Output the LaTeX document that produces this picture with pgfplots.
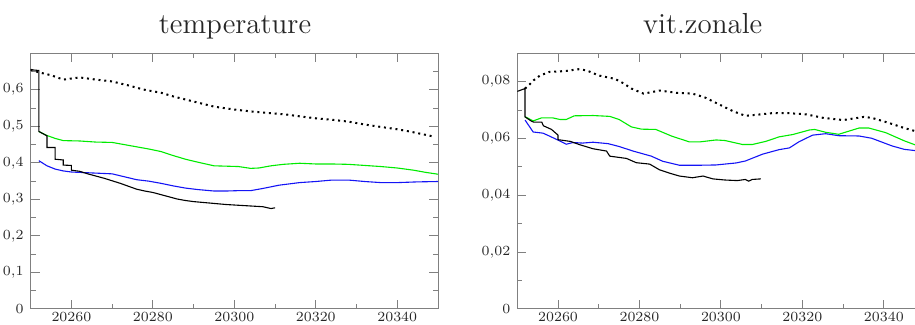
\documentclass[border=0pt]{standalone}
\usepackage{pgfplots}
\pgfplotsset{compat=1.18}
\definecolor{cgreen}{RGB}{0,235,0}
\definecolor{cblue}{RGB}{20,20,245}
\begin{document}
\begin{tikzpicture}
\useasboundingbox (0,0) rectangle (457.5pt,162.5pt);
\clip (0,0) rectangle (457.5pt,162.5pt);
\pgfplotsset{
  common/.style={
    scale only axis,
    width=203.65pt, height=127.85pt,
    anchor=south west,
    xmin=20250, xmax=20350,
    scaled x ticks=false, scaled y ticks=false,
    xtick={20260,20280,20300,20320,20340},
    minor xtick={20270,20290,20310,20330},
    tick align=inside,
    major tick length=4.5pt,
    minor tick length=2.5pt,
    axis line style={black!50, line width=0.5pt},
    every tick/.style={black!50, line width=0.5pt},
    ticklabel style={font=\fontsize{6.6}{8}\selectfont, text=black!85},
    x tick label style={/pgf/number format/fixed, /pgf/number format/precision=0, /pgf/number format/1000 sep={}, inner sep=1.5pt},
    y tick label style={/pgf/number format/fixed, /pgf/number format/use comma},
    every axis plot/.append style={line width=0.55pt},
  },
  dots/.style={black, line width=1pt, dash pattern=on 1pt off 1.9pt},
}
\node[anchor=base, font=\fontsize{14.5}{17}\selectfont, text=black!85] at (117.5pt,145.85pt) {temperature};
\node[anchor=base, font=\fontsize{14.5}{17}\selectfont, text=black!85] at (351.35pt,145.85pt) {vit.zonale};

\begin{axis}[common, at={(15.35pt,8pt)},
  ymin=0, ymax=0.7,
  ytick={0,0.1,0.2,0.3,0.4,0.5,0.6},
  minor ytick={0.05,0.15,0.25,0.35,0.45,0.55,0.65},
  y tick label style={/pgf/number format/precision=1}]
\addplot[dots] coordinates {
(20250,0.655)(20252,0.648)(20255,0.640)(20258,0.628)(20262,0.634)(20266,0.628)
(20270,0.623)(20274,0.612)(20278,0.600)(20282,0.592)(20285,0.582)(20290,0.568)
(20295,0.554)(20300,0.546)(20304,0.541)(20308,0.537)(20313,0.532)(20317,0.526)
(20320,0.522)(20324,0.518)(20328,0.513)(20332,0.505)(20335,0.500)(20340,0.492)
(20343,0.486)(20346,0.479)(20349,0.472)};
\addplot[cgreen] coordinates {
(20252,0.486)(20254,0.475)(20256,0.467)(20258,0.461)(20262,0.460)(20266,0.457)
(20270,0.456)(20273,0.450)(20276,0.444)(20279,0.438)(20282,0.431)(20285,0.420)
(20288,0.410)(20291,0.402)(20295,0.392)(20298,0.391)(20301,0.390)(20304,0.385)
(20306,0.386)(20309,0.392)(20312,0.396)(20316,0.399)(20320,0.397)(20324,0.397)
(20328,0.396)(20332,0.393)(20336,0.390)(20340,0.386)(20344,0.380)(20347,0.374)
(20350,0.369)};
\addplot[cblue] coordinates {
(20252,0.406)(20254,0.392)(20256,0.383)(20258,0.378)(20260,0.375)(20262,0.374)
(20266,0.372)(20270,0.370)(20273,0.362)(20276,0.354)(20279,0.350)(20282,0.344)
(20285,0.337)(20288,0.331)(20291,0.327)(20295,0.323)(20298,0.323)(20301,0.324)
(20304,0.324)(20307,0.330)(20311,0.339)(20316,0.346)(20320,0.349)(20324,0.353)
(20328,0.353)(20332,0.349)(20336,0.346)(20340,0.346)(20345,0.348)(20350,0.349)};
\addplot[black] coordinates {
(20250,0.655)(20252,0.653)(20252,0.486)(20254,0.474)(20254,0.442)(20256,0.442)
(20256,0.410)(20258,0.408)(20258,0.394)(20260,0.393)(20260,0.380)(20262,0.377)
(20264,0.370)(20266,0.364)(20268,0.358)(20270,0.351)(20272,0.344)(20274,0.336)
(20276,0.328)(20278,0.323)(20280,0.319)(20282,0.313)(20284,0.307)(20286,0.301)
(20288,0.297)(20290,0.294)(20292,0.292)(20295,0.289)(20298,0.286)(20301,0.284)
(20304,0.282)(20307,0.280)(20309,0.275)(20310,0.277)};
\end{axis}

\begin{axis}[common, at={(258.65pt,8pt)},
  ymin=0, ymax=0.09,
  ytick={0,0.02,0.04,0.06,0.08},
  minor ytick={0.01,0.03,0.05,0.07},
  y tick label style={/pgf/number format/precision=2}]
\addplot[dots] coordinates {
(20251.9,0.0776)(20253,0.0790)(20254,0.0805)(20255.6,0.0822)(20258,0.0835)(20260,0.0836)
(20262,0.0838)(20265,0.0844)(20267,0.0840)(20270,0.0822)(20274,0.0810)(20276,0.0795)
(20278,0.0776)(20281,0.0758)(20285,0.0769)(20289,0.0761)(20293,0.0758)(20296,0.0745)
(20298,0.0731)(20301,0.0710)(20303,0.0696)(20306,0.0680)(20309,0.0684)(20313,0.0690)
(20317,0.0689)(20321,0.0685)(20325,0.0673)(20330,0.0665)(20335,0.0676)(20337,0.0673)
(20341,0.0656)(20345,0.0637)(20348,0.0625)(20350,0.0618)};
\addplot[cgreen] coordinates {
(20251.9,0.0677)(20253.9,0.0662)(20256,0.0673)(20258.6,0.0673)(20260.5,0.0667)(20262,0.0667)
(20264,0.0680)(20268.6,0.0681)(20272.7,0.0678)(20275,0.0667)(20278,0.0641)(20280.5,0.0633)
(20284,0.0632)(20288,0.0608)(20292.3,0.0588)(20294.7,0.0588)(20298.8,0.0595)(20301,0.0593)
(20305.3,0.0579)(20307.7,0.0579)(20311,0.0590)(20314.3,0.0606)(20317.6,0.0614)(20321.7,0.0630)
(20323,0.0632)(20325.7,0.0622)(20328.9,0.0615)(20333.9,0.0637)(20336.3,0.0637)(20340.4,0.0621)
(20345,0.0592)(20348,0.0576)(20350,0.0570)};
\addplot[cblue] coordinates {
(20251.9,0.0665)(20253.9,0.0623)(20256.3,0.0619)(20258,0.0608)(20260.5,0.0591)(20262,0.0580)
(20263.7,0.0586)(20266,0.0584)(20268.6,0.0587)(20272.3,0.0582)(20275,0.0572)(20278.4,0.0556)
(20282.9,0.0538)(20285.7,0.0520)(20289.8,0.0506)(20294.7,0.0506)(20298.8,0.0507)(20303.7,0.0514)
(20306,0.0521)(20310.2,0.0545)(20314.3,0.0561)(20316.8,0.0567)(20319.2,0.0589)(20322.5,0.0612)
(20325.7,0.0617)(20328.9,0.0610)(20333.9,0.0609)(20337,0.0601)(20342,0.0574)(20345,0.0562)
(20348,0.0557)(20350,0.0556)};
\addplot[black] coordinates {
(20250,0.0766)(20251.9,0.0776)(20251.9,0.0676)(20253.5,0.0661)(20254,0.0658)(20256,0.0658)
(20256.4,0.0645)(20258.4,0.0632)(20260,0.0612)(20260,0.0596)(20263,0.0590)(20265.4,0.0578)
(20268.6,0.0564)(20271.9,0.0556)(20272.7,0.0538)(20276.8,0.0530)(20279.2,0.0515)(20282.5,0.0510)
(20284.9,0.0490)(20287.4,0.0478)(20289.8,0.0468)(20293,0.0462)(20295.6,0.0468)(20298,0.0458)
(20301,0.0454)(20304,0.0452)(20306,0.0456)(20306.8,0.0450)(20307.7,0.0456)(20309.8,0.0458)};
\end{axis}
\end{tikzpicture}
\end{document}
